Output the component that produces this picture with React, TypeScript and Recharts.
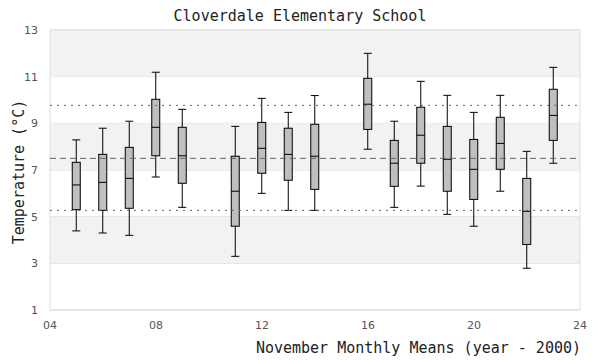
import {
  ComposedChart,
  Bar,
  XAxis,
  YAxis,
  CartesianGrid,
  ReferenceArea,
  ReferenceLine,
} from "recharts";

// November monthly means, one box per year (2010 and 2015 missing)
const years = [5, 6, 7, 8, 9, 11, 12, 13, 14, 16, 17, 18, 19, 20, 21, 22, 23];
const lows = [4.39, 4.3, 4.2, 6.7, 5.4, 3.3, 6.0, 5.27, 5.27, 7.89, 5.4, 6.31, 5.1, 4.59, 6.09, 2.79, 7.29];
const q1s = [5.3, 5.27, 5.36, 7.61, 6.43, 4.59, 6.86, 6.56, 6.17, 8.74, 6.3, 7.29, 6.09, 5.74, 7.03, 3.81, 8.27];
const medians = [6.36, 6.47, 6.64, 8.83, 7.61, 6.09, 7.93, 7.67, 7.59, 9.82, 7.29, 8.49, 7.46, 7.03, 8.14, 5.23, 9.34];
const q3s = [7.33, 7.67, 7.97, 10.03, 8.83, 7.59, 9.04, 8.79, 8.96, 10.93, 8.27, 9.69, 8.87, 8.31, 9.26, 6.64, 10.46];
const highs = [8.29, 8.79, 9.09, 11.19, 9.6, 8.87, 10.07, 9.47, 10.19, 12.0, 9.09, 10.8, 10.2, 9.47, 10.2, 7.8, 11.4];

const xTicks = [4, 8, 12, 16, 20, 24];
const yTicks = [1, 3, 5, 7, 9, 11, 13];
const bands = [
  [11, 13],
  [7, 9],
  [3, 5],
];
const upperLine = 9.77;
const meanLine = 7.5;
const lowerLine = 5.27;

const data = years.map((year, i) => ({
  year,
  low: lows[i],
  q1: q1s[i],
  median: medians[i],
  q3: q3s[i],
  high: highs[i],
}));

const mono = "'DejaVu Sans Mono', monospace";
const sans = "'DejaVu Sans', sans-serif";

// draws the whole box from the range bar [low, high] the library positioned
const BoxShape = (props: any) => {
  const { x, y, width, height, payload } = props;
  const top = Math.min(y, y + height);
  const bottom = Math.max(y, y + height);
  const span = payload.high - payload.low;
  const py = (v: number) => top + ((payload.high - v) / span) * (bottom - top);
  const cx = x + width / 2;
  const w = 8;
  const left = cx - w / 2;
  const right = cx + w / 2;
  return (
    <g stroke="#000" strokeWidth={1}>
      <line x1={cx} x2={cx} y1={py(payload.high)} y2={py(payload.q3)} />
      <line x1={cx} x2={cx} y1={py(payload.q1)} y2={py(payload.low)} />
      <line x1={left} x2={right} y1={py(payload.high)} y2={py(payload.high)} />
      <line x1={left} x2={right} y1={py(payload.low)} y2={py(payload.low)} />
      <rect
        x={left}
        y={py(payload.q3)}
        width={w}
        height={py(payload.q1) - py(payload.q3)}
        fill="#bfbfbf"
      />
      <line x1={left} x2={right} y1={py(payload.median)} y2={py(payload.median)} />
    </g>
  );
};

export default function App() {
  return (
    <div style={{ position: "absolute", left: 0, top: 0, width: 600, height: 360 }}>
      <ComposedChart
        width={600}
        height={360}
        data={data}
        margin={{ top: 30, right: 20, bottom: 30, left: 0 }}
      >
        <text
          x={300}
          y={21}
          textAnchor="middle"
          style={{ fontFamily: mono, fontSize: 15, fill: "#222" }}
        >
          Cloverdale Elementary School
        </text>
        <text
          x={581}
          y={353}
          textAnchor="end"
          style={{ fontFamily: mono, fontSize: 15, fill: "#222" }}
        >
          November Monthly Means (year - 2000)
        </text>
        <text
          x={24}
          y={172}
          textAnchor="middle"
          transform="rotate(-90 24 172)"
          style={{ fontFamily: mono, fontSize: 15, fill: "#222" }}
        >
          Temperature (°C)
        </text>
        {bands.map(([a, b]) => (
          <ReferenceArea
            key={a}
            x1={4}
            x2={24}
            y1={a}
            y2={b}
            fill="#f2f2f2"
            fillOpacity={1}
            stroke="none"
          />
        ))}
        <CartesianGrid horizontal vertical={false} stroke="#dddddd" />
        <ReferenceArea
          x1={4}
          x2={24}
          y1={1}
          y2={13}
          fill="none"
          stroke="#dddddd"
          strokeWidth={1}
        />
        <XAxis
          type="number"
          dataKey="year"
          domain={[4, 24]}
          ticks={xTicks}
          interval={0}
          tickFormatter={(v: number) => String(v).padStart(2, "0")}
          axisLine={false}
          tickLine={false}
          tickSize={0}
          tickMargin={11}
          height={20}
          tick={{ fontSize: 11, fill: "#555", fontFamily: sans }}
        />
        <YAxis
          type="number"
          domain={[1, 13]}
          ticks={yTicks}
          interval={0}
          axisLine={false}
          tickLine={false}
          tickSize={0}
          tickMargin={12}
          width={50}
          tick={{ fontSize: 11, fill: "#555", fontFamily: sans }}
        />
        <ReferenceLine y={upperLine} stroke="#666" strokeDasharray="2 5" />
        <ReferenceLine y={meanLine} stroke="#666" strokeDasharray="6 4" />
        <ReferenceLine y={lowerLine} stroke="#666" strokeDasharray="2 5" />
        <Bar
          dataKey={(d: any) => [d.low, d.high]}
          barSize={8}
          shape={BoxShape}
          isAnimationActive={false}
        />
      </ComposedChart>
    </div>
  );
}
